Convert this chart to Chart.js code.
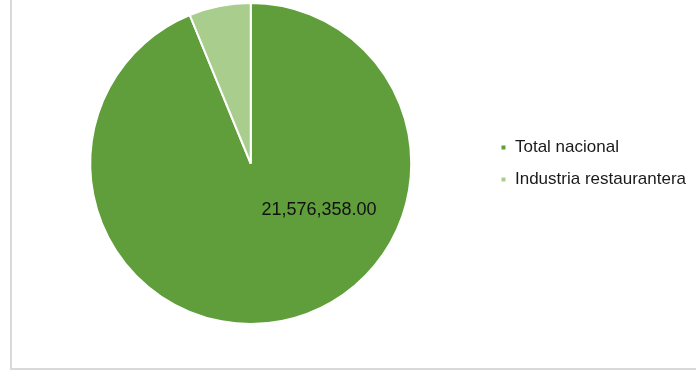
<!DOCTYPE html>
<html>
<head>
<meta charset="utf-8">
<script src="https://cdn.jsdelivr.net/npm/chart.js@4"></script>
<style>
  html, body { margin: 0; padding: 0; background: #fff; }
  #wrap { position: relative; width: 696px; height: 371px; }
  #frame { position: absolute; left: 10px; top: 0; width: 686px; height: 370px;
           border-left: 2px solid #d9d9d9; border-bottom: 2px solid #d9d9d9; box-sizing: border-box; }
  canvas { position: absolute; left: 0; top: 0; }
</style>
</head>
<body>
<div id="wrap">
  <div id="frame"></div>
  <canvas id="pieChart" width="696" height="371"></canvas>
</div>
<script>
const categories = ['Total nacional', 'Industria restaurantera'];
const values = [21576358.00, 1426000];
const colors = ['#5f9e3a', '#a9cd8c'];
const shownLabels = ['21,576,358.00', ''];

// draws the value text inside the big slice
const sliceLabels = {
    id: 'sliceLabels',
    afterDatasetsDraw(chart) {
        const ctx = chart.ctx;
        const meta = chart.getDatasetMeta(0);
        ctx.save();
        ctx.font = '18px "Liberation Sans", Arial, sans-serif';
        ctx.fillStyle = '#111';
        ctx.textAlign = 'center';
        ctx.textBaseline = 'middle';
        meta.data.forEach((arc, i) => {
            if (!shownLabels[i]) return;
            const r = arc.outerRadius;
            ctx.fillText(shownLabels[i], arc.x + r * 0.425, arc.y + r * 0.29);
        });
        ctx.restore();
    }
};

document.addEventListener('DOMContentLoaded', () => {
    const ctx = document.getElementById('pieChart').getContext('2d');
    new Chart(ctx, {
        type: 'pie',
        data: {
            labels: categories,
            datasets: [{
                data: values,
                backgroundColor: colors,
                borderColor: '#ffffff',
                borderWidth: 2
            }]
        },
        options: {
            responsive: false,
            animation: false,
            layout: { padding: { top: 2, bottom: 46, left: 16, right: 0 } },
            plugins: {
                legend: {
                    position: 'right',
                    labels: {
                        boxWidth: 6,
                        boxHeight: 6,
                        padding: 15,
                        color: '#1a1a1a',
                        font: { size: 17, family: '"Liberation Sans", Arial, sans-serif' }
                    }
                },
                tooltip: { enabled: false }
            }
        },
        plugins: [sliceLabels]
    });
});
</script>
</body>
</html>
